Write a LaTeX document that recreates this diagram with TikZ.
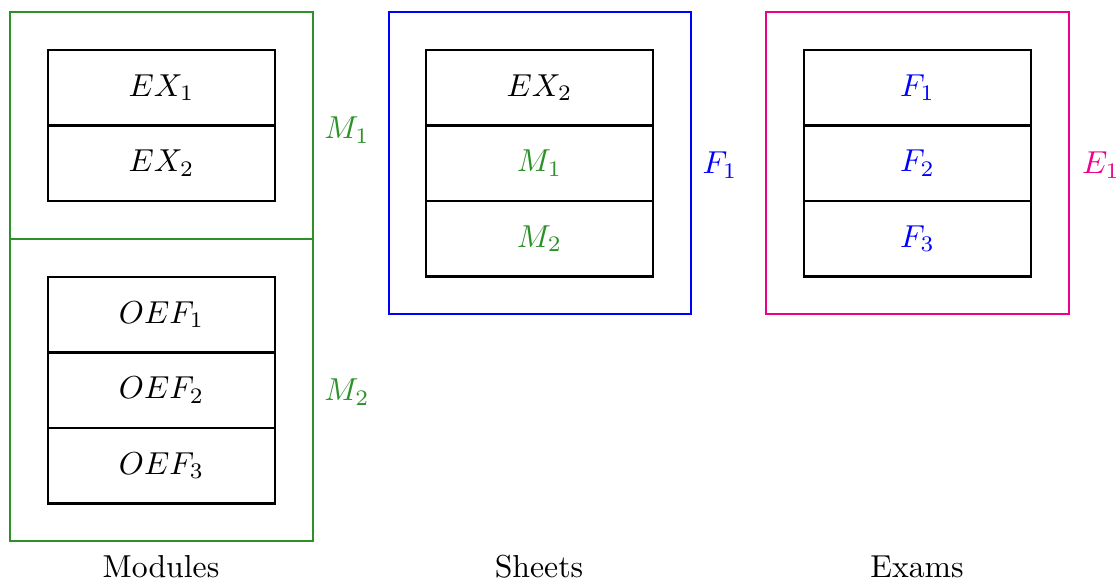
\documentclass[tikz,border=0pt]{standalone}
\definecolor{grn}{RGB}{44,145,40}
\definecolor{blu}{RGB}{0,0,255}
\definecolor{mag}{RGB}{236,0,140}
\begin{document}
\begin{tikzpicture}[x=0.315pt,y=-0.315pt,
  outer/.style={line width=0.85pt},
  cell/.style={draw=black,line width=0.7pt,minimum width=227*0.315pt,minimum height=75.5*0.315pt,inner sep=0pt,outer sep=0pt,anchor=north west},
  lbl/.style={anchor=center,inner sep=0pt}]
\useasboundingbox (0,0) rectangle (1118,581);
% Modules
\draw[grn,outer] (10,12) rectangle (313,541);
\draw[grn,outer] (10,239) -- (313,239);
\node[cell] (a1) at (48,50) {$EX_1$};
\node[cell] (a2) at (48,125.5) {$EX_2$};
\node[cell] (b1) at (48,277) {$OEF_1$};
\node[cell] (b2) at (48,352.5) {$OEF_2$};
\node[cell] (b3) at (48,428) {$OEF_3$};
\node[lbl,text=grn] (m1) at (347,130) {$M_1$};
\node[lbl,text=grn] (m2) at (347,392) {$M_2$};
% Sheets
\draw[blu,outer] (389,12) rectangle (691,314);
\node[cell] (s1) at (426,50) {$EX_2$};
\node[cell,text=grn] (s2) at (426,125.5) {$M_1$};
\node[cell,text=grn] (s3) at (426,201) {$M_2$};
\node[lbl,text=blu] (f1) at (720,165) {$F_1$};
% Exams
\draw[mag,outer] (766,12) rectangle (1069,314);
\node[cell,text=blu] (e1) at (804,50) {$F_1$};
\node[cell,text=blu] (e2) at (804,125.5) {$F_2$};
\node[cell,text=blu] (e3) at (804,201) {$F_3$};
\node[lbl,text=mag] (el) at (1101,165) {$E_1$};
% captions
\node[lbl] (c1) at (161,567) {Modules};
\node[lbl] (c2) at (539,567) {Sheets};
\node[lbl] (c3) at (917,567) {Exams};
\end{tikzpicture}
\end{document}
